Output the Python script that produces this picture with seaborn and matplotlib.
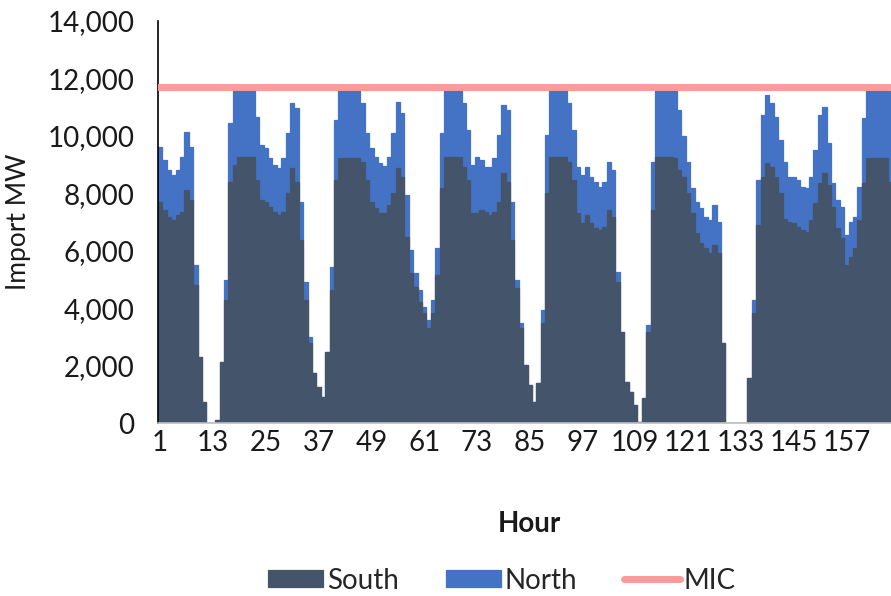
import numpy as np
import pandas as pd
import seaborn as sns
import matplotlib
matplotlib.use("Agg")
import matplotlib.pyplot as plt

# hourly imports over one week (MW)
hours = list(range(1, 169))

south = [
    7710, 7420, 7190, 7070, 7245, 7360, 8115, 7770, 4805, 2310, 740, 0,
    0, 100, 2135, 4285, 8405, 9000, 9275, 9275, 9275, 9275, 8460, 7770,
    7710, 7535, 7360, 7245, 7360, 8000, 8870, 8405, 6375, 4285, 2775, 1730,
    1265, 920, 2485, 4630, 8460, 9220, 9220, 9220, 9220, 9220, 9100, 8460,
    7710, 7480, 7300, 7300, 7590, 8000, 8870, 8580, 6490, 5210, 4750, 4225,
    3820, 3300, 3820, 5155, 8175, 9275, 9275, 9275, 9275, 8930, 8460, 7300,
    7300, 7420, 7360, 7245, 7360, 7710, 8700, 8400, 6375, 4690, 3300, 2020,
    1330, 740, 1380, 3470, 8000, 9275, 9275, 9275, 9275, 9100, 8460, 7300,
    6950, 7245, 6950, 6780, 6720, 6840, 7420, 7190, 4900, 3180, 1440, 1090,
    630, 50, 860, 3180, 7420, 9275, 9275, 9275, 9275, 9220, 8810, 8580,
    8000, 7300, 6600, 6260, 6085, 5910, 6200, 5910, 2775, 0, 0, 0,
    0, 0, 1555, 3820, 6900, 8580, 9045, 8930, 8580, 8000, 7100, 7010,
    6955, 6840, 6720, 6660, 7070, 7650, 8350, 8700, 8290, 7535, 6780, 6430,
    5500, 5790, 6100, 7070, 8350, 9220, 9220, 9220, 9220, 9220, 8400, 8100,
]

north = [
    1910, 1740, 1620, 1570, 1565, 1915, 2035, 1855, 695, 0, 0, 0,
    0, 0, 0, 695, 2035, 2700, 2425, 2425, 2425, 2375, 2210, 1910,
    1860, 1685, 1630, 1625, 1860, 2090, 2260, 2555, 1335, 635, 225, 0,
    0, 0, 0, 815, 2090, 2480, 2480, 2480, 2480, 2480, 2030, 1630,
    1860, 1795, 1745, 1660, 1685, 2090, 2320, 2210, 1450, 815, 460, 405,
    230, 290, 465, 930, 1915, 2425, 2425, 2425, 2425, 2200, 1740, 1700,
    1975, 1740, 1570, 1685, 1860, 2320, 2375, 2500, 1335, 290, 170, 0,
    0, 0, 0, 465, 2030, 2425, 2425, 2425, 2425, 2030, 1740, 1630,
    1690, 1685, 1630, 1620, 1510, 1560, 1680, 1620, 370, 0, 0, 0,
    0, 0, 0, 230, 1680, 2425, 2425, 2425, 2425, 2380, 2090, 1420,
    1100, 875, 1110, 1220, 1105, 1160, 1390, 1100, 0, 0, 0, 0,
    0, 0, 0, 465, 1560, 2150, 2365, 2200, 2090, 1850, 2000, 1570,
    1625, 1620, 1510, 1515, 1510, 1860, 2380, 2320, 1450, 815, 990, 1105,
    1050, 1220, 1090, 1160, 2260, 2480, 2480, 2480, 2480, 2480, 3150, 2900,
]

MIC_MW = 11700

SOUTH_COLOR = "#44546A"
NORTH_COLOR = "#4472C4"
MIC_COLOR = "#FA9A9A"

sns.set_style("white")
plt.rcParams["font.family"] = ["Lato", "DejaVu Sans"]

df = pd.DataFrame({"hour": hours, "South": south, "North": north})
df["Total"] = df["South"] + df["North"]

fig = plt.figure(figsize=(8.91, 5.96), dpi=100)
ax = fig.add_axes([158 / 891, 1 - 423 / 596, 739 / 891, 402 / 596])

# stacked: total in north colour, south drawn over it
sns.barplot(data=df, x="hour", y="Total", color=NORTH_COLOR, saturation=1,
            width=1, linewidth=0.9, edgecolor=NORTH_COLOR, errorbar=None,
            label="North", ax=ax)
sns.barplot(data=df, x="hour", y="South", color=SOUTH_COLOR, saturation=1,
            width=1, linewidth=0.9, edgecolor=SOUTH_COLOR, errorbar=None,
            label="South", ax=ax)
mic = ax.axhline(MIC_MW, color=MIC_COLOR, lw=5, label="MIC", zorder=5)
if ax.get_legend() is not None:
    ax.get_legend().remove()

ax.set_xlim(-0.5, 167.5)
ax.set_ylim(0, 14000)
yt = list(range(0, 14001, 2000))
ax.set_yticks(yt)
ax.set_yticklabels([f"{v:,}" for v in yt], fontsize=20)
ax.set_xticks(range(0, 168, 12))
ax.set_xticklabels([str(h) for h in hours[::12]], fontsize=20)
ax.set_xticks(np.arange(-0.5, 168, 12), minor=True)
ax.tick_params(axis="x", which="major", length=0, pad=5, colors="#1a1a1a")
ax.tick_params(axis="x", which="minor", length=5, width=1, color="#BFBFBF")
ax.tick_params(axis="y", length=0, pad=17, colors="#1a1a1a")

for s in ["top", "right"]:
    ax.spines[s].set_visible(False)
ax.spines["left"].set_color("black")
ax.spines["left"].set_linewidth(1.2)
ax.spines["bottom"].set_color("#BFBFBF")
ax.spines["bottom"].set_linewidth(1.2)

ax.set_xlabel("Hour", fontsize=20, fontweight="bold", color="#1a1a1a")
ax.xaxis.set_label_coords(0.503, -0.218)
ax.set_ylabel("Import MW", fontsize=19, color="#1a1a1a")
ax.yaxis.set_label_coords(-0.172, 0.5)

fig.legend(handles=[ax.containers[1], ax.containers[0], mic],
           labels=["South", "North", "MIC"], loc="center",
           bbox_to_anchor=(0.563, 0.026), ncol=3, frameon=False,
           fontsize=20, handlelength=2.0, handleheight=0.55,
           handletextpad=0.12, columnspacing=1.7)

fig.savefig("out.png", dpi=100)
